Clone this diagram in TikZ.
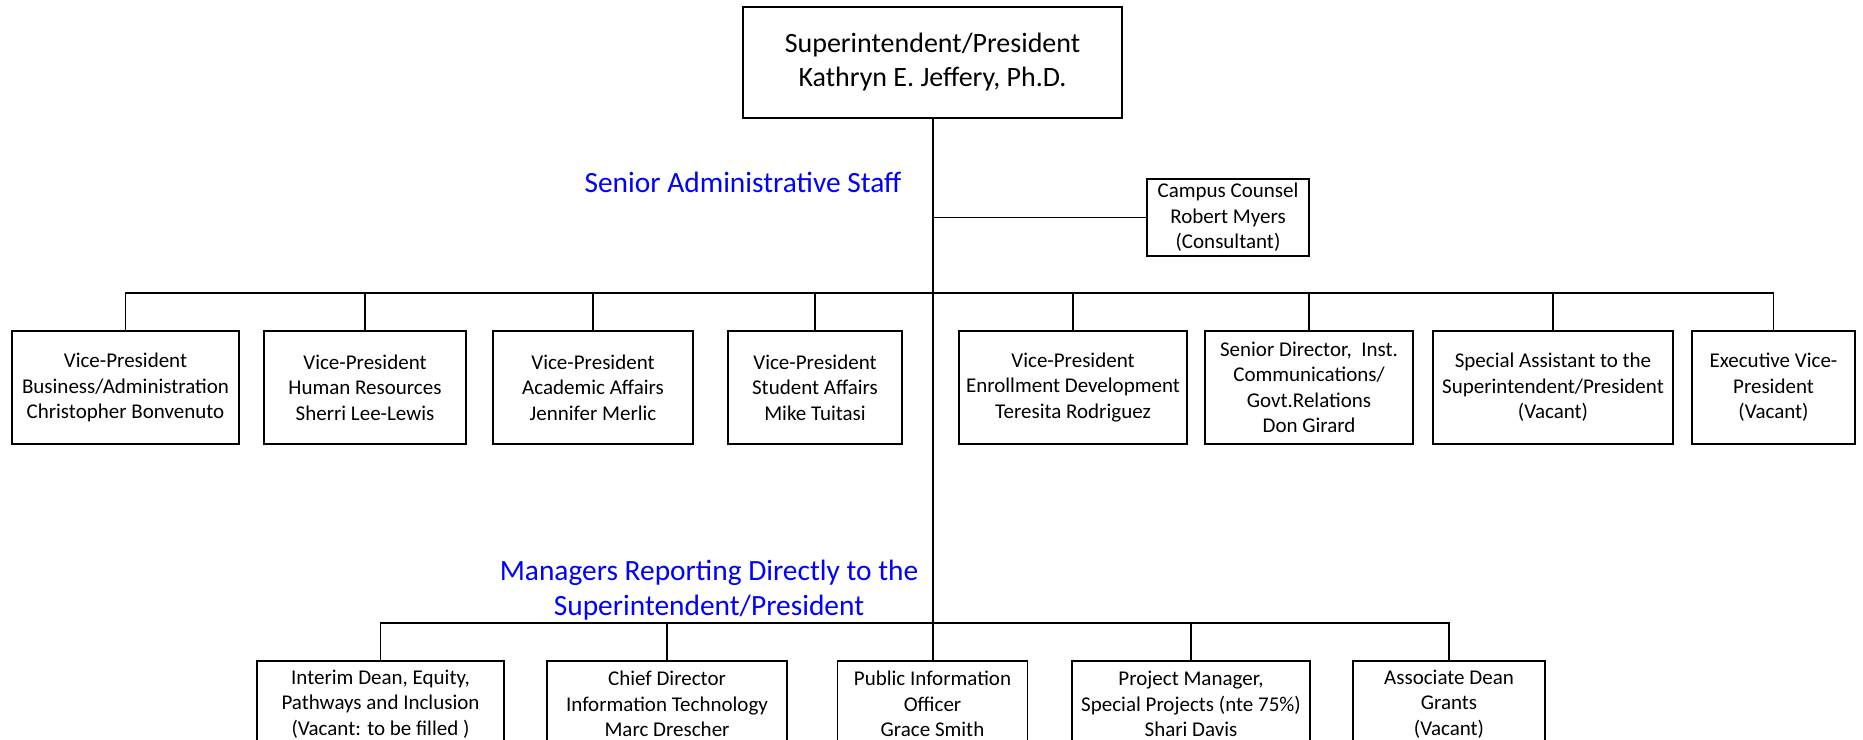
\documentclass[tikz,border=0pt]{standalone}
\usepackage{fontspec}
\setmainfont{Carlito}
\usepackage{tikz}

\begin{document}
\begin{tikzpicture}[x=1pt, y=-1pt,
	main/.style = {draw, rectangle, line width=1.6pt, inner sep=0pt, align=center, font=\fontsize{21}{25.5}\selectfont},
	head/.style = {draw, rectangle, line width=1.6pt, inner sep=0pt, align=center, font=\fontsize{28}{34}\selectfont},
	grouplabel/.style = {text=blue, align=center, font=\fontsize{29.4}{35}\selectfont}]
				\useasboundingbox (0,0) rectangle (1863,739);
				\clip (0,0) rectangle (1863,739);
				\node[head, minimum width=379pt, minimum height=111pt] (p) at (932.5,62.5) {Superintendent/President\\Kathryn E. Jeffery, Ph.D.};
				\node[main, minimum width=162pt, minimum height=77pt] (cc) at (1228,217.5) {Campus Counsel\\Robert Myers\\(Consultant)};
				\node[grouplabel] (sa) at (743,182) {Senior Administrative Staff};
				\node[grouplabel] (mr) at (709,590) {Managers Reporting Directly to the\\Superintendent/President};
				
				\node[main, minimum width=227pt, minimum height=113pt] (u1) at (125.5,387.5) {Vice-President\\Business/Administration\\Christopher Bonvenuto};
				\node[main, minimum width=202pt, minimum height=113pt] (u2) at (365,387.5) {Vice-President\\Human Resources\\Sherri Lee-Lewis};
				\node[main, minimum width=200pt, minimum height=113pt] (u3) at (593,387.5) {Vice-President\\Academic Affairs\\Jennifer Merlic};
				\node[main, minimum width=174pt, minimum height=113pt] (u4) at (815,387.5) {Vice-President\\Student Affairs\\Mike Tuitasi};
				\node[main, minimum width=228pt, minimum height=113pt] (u5) at (1073,387.5) {Vice-President\\Enrollment Development\\Teresita Rodriguez};
				\node[main, minimum width=208pt, minimum height=113pt] (u6) at (1309,387.5) {Senior Director, \ Inst.\\Communications/\\Govt.Relations\\Don Girard};
				\node[main, minimum width=240pt, minimum height=113pt] (u7) at (1553,387.5) {Special Assistant to the\\Superintendent/President\\(Vacant)};
				\node[main, minimum width=163pt, minimum height=113pt] (u8) at (1773.5,387.5) {Executive Vice-\\President\\(Vacant)};
				
				\node[main, minimum width=247pt, minimum height=86pt] (l1) at (380.5,704) {Interim Dean, Equity,\\Pathways and Inclusion\\(Vacant: to be filled\ )};
				\node[main, minimum width=240pt, minimum height=86pt] (l2) at (667,704) {Chief Director\\Information Technology\\Marc Drescher};
				\node[main, minimum width=190pt, minimum height=86pt] (l3) at (932.5,704) {Public Information\\Officer\\Grace Smith};
				\node[main, minimum width=238pt, minimum height=86pt] (l4) at (1191,704) {Project Manager,\\Special Projects (nte 75\%)\\Shari Davis};
				\node[main, minimum width=192pt, minimum height=86pt] (l5) at (1449,704) {Associate Dean\\Grants\\(Vacant)};
				
				\coordinate (ut) at (932.5,293);
				\coordinate (lt) at (932.5,623);
				
				\draw[line width=2pt] (p.south) -- (l3.north);
				\draw[line width=1.5pt] (cc.west) -- (cc.west -| p.south);
				
				\draw[line width=1.5pt] (ut) -| (u1.north);
				\draw[line width=1.5pt] (ut) -| (u2.north);
				\draw[line width=1.5pt] (ut) -| (u3.north);
				\draw[line width=1.5pt] (ut) -| (u4.north);
				\draw[line width=1.5pt] (ut) -| (u5.north);
				\draw[line width=1.5pt] (ut) -| (u6.north);
				\draw[line width=1.5pt] (ut) -| (u7.north);
				\draw[line width=1.5pt] (ut) -| (u8.north);
				
				\draw[line width=1.5pt] (lt) -| (l1.north);
				\draw[line width=1.5pt] (lt) -| (l2.north);
				\draw[line width=1.5pt] (lt) -| (l4.north);
				\draw[line width=1.5pt] (lt) -| (l5.north);
			\end{tikzpicture}
\end{document}
